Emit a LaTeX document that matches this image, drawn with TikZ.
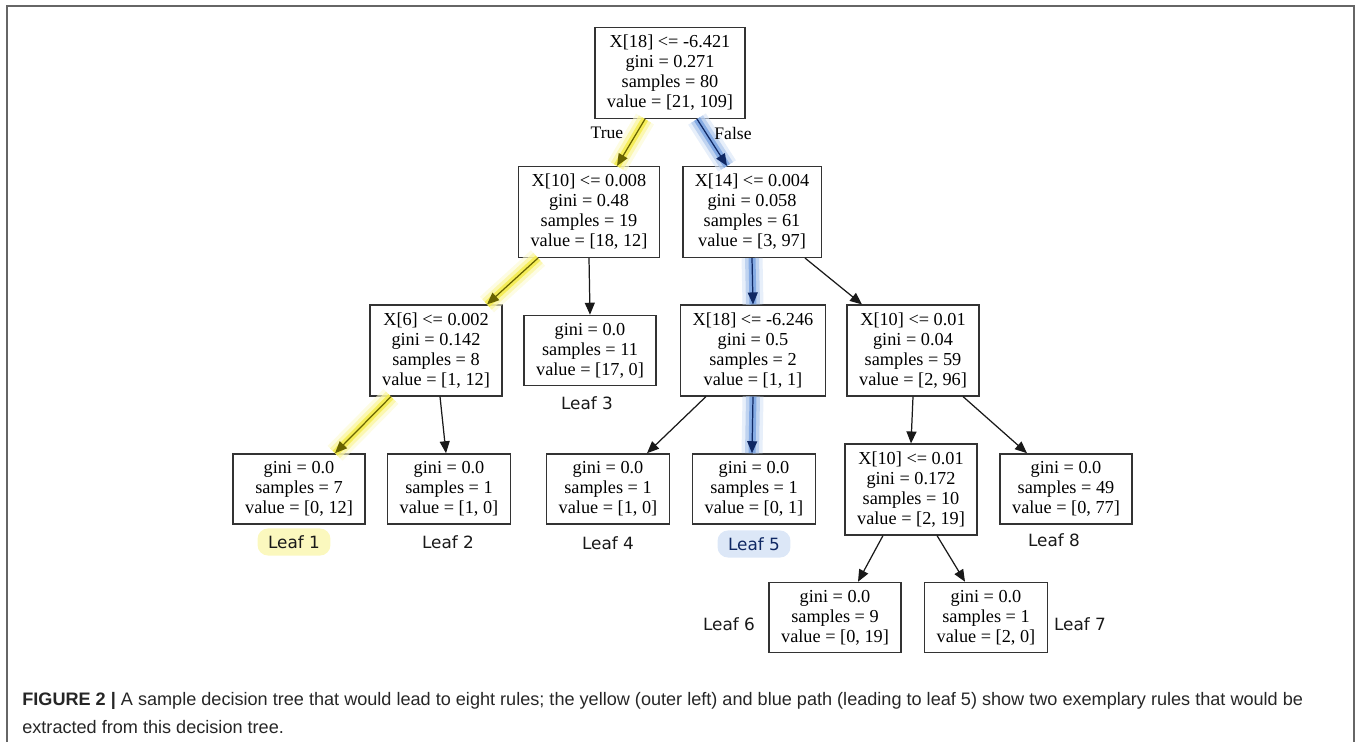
\documentclass[tikz,border=0pt]{standalone}
\usepackage{fontspec}
\setmainfont{Liberation Serif}
\newfontfamily\lblfont{DejaVu Sans}
\newfontfamily\capfont{Liberation Sans}
\usetikzlibrary{arrows.meta}
\definecolor{olivepath}{RGB}{105,100,0}
\definecolor{glowy}{RGB}{245,236,70}
\definecolor{navypath}{RGB}{15,40,100}
\definecolor{glowb}{RGB}{95,145,220}
\tikzset{tn/.style={draw=black!80,line width=0.8pt,fill=white,align=center,
 inner xsep=6.8pt,inner ysep=4.3pt,font=\fontsize{10.4}{11.4}\selectfont},
 arr/.style={-{Triangle[length=0.24cm,width=0.2cm]},draw=black!90,line width=0.7pt},
 ypath/.style={arr,draw=olivepath,preaction={draw=glowy!25,line width=0.42cm,-,opacity=.6},
 preaction={draw=glowy!55,line width=0.28cm,-,opacity=.7},
 preaction={draw=glowy,line width=0.14cm,-,opacity=.8}},
 bpath/.style={arr,draw=navypath,preaction={draw=glowb!25,line width=0.42cm,-,opacity=.6},
 preaction={draw=glowb!50,line width=0.28cm,-,opacity=.7},
 preaction={draw=glowb!85,line width=0.14cm,-,opacity=.8}},
 lf/.style={font=\lblfont\fontsize{9.6}{11}\selectfont,text=black!90,inner sep=1pt},
 el/.style={font=\fontsize{10}{11}\selectfont}}
\begin{document}
\begin{tikzpicture}
\useasboundingbox (0,0) rectangle (27.14,-14.84);
\draw[black!60,line width=0.7pt] (0.14,-14.84)--(0.14,-0.12)--(27.08,-0.12)--(27.08,-14.84);
% tree
\node[tn] (r) at (13.40,-1.46) {X[18] <= -6.421\\gini = 0.271\\samples = 80\\value = [21, 109]};
\node[tn] (a) at (11.78,-4.24) {X[10] <= 0.008\\gini = 0.48\\samples = 19\\value = [18, 12]};
\node[tn] (b) at (15.04,-4.24) {X[14] <= 0.004\\gini = 0.058\\samples = 61\\value = [3, 97]};
\node[tn] (c) at (8.72,-7.01) {X[6] <= 0.002\\gini = 0.142\\samples = 8\\value = [1, 12]};
\node[tn] (v3) at (11.80,-7.01) {gini = 0.0\\samples = 11\\value = [17, 0]};
\node[tn] (d) at (15.06,-7.01) {X[18] <= -6.246\\gini = 0.5\\samples = 2\\value = [1, 1]};
\node[tn] (e) at (18.26,-7.01) {X[10] <= 0.01\\gini = 0.04\\samples = 59\\value = [2, 96]};
\node[tn] (v1) at (5.98,-9.78) {gini = 0.0\\samples = 7\\value = [0, 12]};
\node[tn] (v2) at (8.98,-9.78) {gini = 0.0\\samples = 1\\value = [1, 0]};
\node[tn] (v4) at (12.16,-9.78) {gini = 0.0\\samples = 1\\value = [1, 0]};
\node[tn] (v5) at (15.08,-9.78) {gini = 0.0\\samples = 1\\value = [0, 1]};
\node[tn] (f) at (18.22,-9.79) {X[10] <= 0.01\\gini = 0.172\\samples = 10\\value = [2, 19]};
\node[tn] (v8) at (21.32,-9.78) {gini = 0.0\\samples = 49\\value = [0, 77]};
\node[tn] (v6) at (16.70,-12.35) {gini = 0.0\\samples = 9\\value = [0, 19]};
\node[tn] (v7) at (19.72,-12.35) {gini = 0.0\\samples = 1\\value = [2, 0]};
% edges
\draw[ypath] ([xshift=-0.5cm]r.south)--([xshift=0.56cm]a.north);
\draw[bpath] ([xshift=0.54cm]r.south)--([xshift=-0.5cm]b.north);
\node[el] (t) at (12.14,-2.66) {True};
\node[el] (fa) at (14.66,-2.66) {False};
\draw[ypath] ([xshift=-1.02cm]a.south)--([xshift=1.02cm]c.north);
\draw[arr] (a.south)--(v3.north);
\draw[bpath] (b.south)--(d.north);
\draw[arr] ([xshift=1.06cm]b.south)--([xshift=-1.02cm]e.north);
\draw[ypath] ([xshift=-0.9cm]c.south)--([xshift=0.72cm]v1.north);
\draw[arr] ([xshift=0.08cm]c.south)--([xshift=-0.06cm]v2.north);
\draw[arr] ([xshift=-0.94cm]d.south)--([xshift=0.78cm]v4.north);
\draw[bpath] (d.south)--([xshift=-0.04cm]v5.north);
\draw[arr] (e.south)--(f.north);
\draw[arr] ([xshift=1.0cm]e.south)--([xshift=-0.78cm]v8.north);
\draw[arr] ([xshift=-0.56cm]f.south)--([xshift=0.46cm]v6.north);
\draw[arr] ([xshift=0.52cm]f.south)--([xshift=-0.42cm]v7.north);
% leaf names
\node[lf,fill=glowy!35,rounded corners=6pt,inner xsep=6pt,inner ysep=4pt] (l1) at (5.88,-10.84) {Leaf 1};
\node[lf] (l2) at (8.96,-10.84) {Leaf 2};
\node[lf] (l3) at (11.74,-8.06) {Leaf 3};
\node[lf] (l4) at (12.16,-10.86) {Leaf 4};
\node[lf,fill=glowb!22,rounded corners=6pt,inner xsep=6pt,inner ysep=4pt,text=navypath] (l5) at (15.08,-10.88) {Leaf 5};
\node[lf] (l6) at (14.58,-12.48) {Leaf 6};
\node[lf] (l7) at (21.60,-12.48) {Leaf 7};
\node[lf] (l8) at (21.08,-10.80) {Leaf 8};
% caption
\node[anchor=north west,inner sep=0pt,align=left,text=black!85,
 font=\capfont\fontsize{10.3}{15.9}\selectfont] (cap) at (0.44,-13.84)
 {{\bfseries FIGURE 2 |} A sample decision tree that would lead to eight rules; the yellow (outer left) and blue path (leading to leaf 5) show two exemplary rules that would be\\extracted from this decision tree.};
\end{tikzpicture}
\end{document}
